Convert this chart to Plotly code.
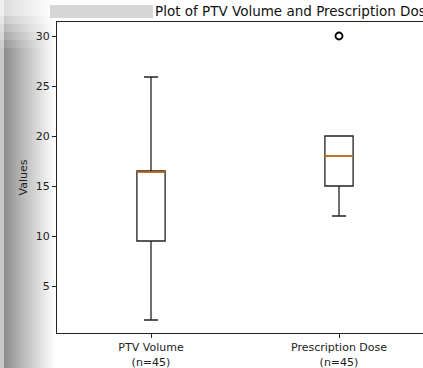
import plotly.graph_objects as go

# ---- data ----
categories = ["PTV Volume", "Prescription Dose"]
counts = [45, 45]
positions = [1, 2]
lower_whisker = [1.6, 12.0]
q1 = [9.5, 15.0]
median = [16.4, 18.0]
q3 = [16.5, 20.0]
upper_whisker = [25.9, 20.0]
outlier_x = [2]
outlier_y = [30.0]
y_ticks = [5, 10, 15, 20, 25, 30]

BOX_W = 0.15
W, H = 423, 368
L, T, B = 57, 22, 35

fig = go.Figure()
for i, cat in enumerate(categories):
    fig.add_trace(go.Box(
        x=[positions[i]], q1=[q1[i]], median=[median[i]], q3=[q3[i]],
        lowerfence=[lower_whisker[i]], upperfence=[upper_whisker[i]],
        width=BOX_W, whiskerwidth=0.5, boxpoints=False,
        fillcolor="white", line=dict(color="#222222", width=1.3),
        showlegend=False, hoverinfo="skip"))
    fig.add_trace(go.Scatter(
        x=[positions[i] - BOX_W / 2, positions[i] + BOX_W / 2],
        y=[median[i], median[i]], mode="lines",
        line=dict(color="#ff7f0e", width=1.3), showlegend=False, hoverinfo="skip"))

fig.add_trace(go.Scatter(
    x=outlier_x, y=outlier_y, mode="markers",
    marker=dict(symbol="circle-open", size=7, color="black", line=dict(width=1.8)),
    showlegend=False, hoverinfo="skip"))

# decorative left gradient (photograph shading)
plot_w = W - L
plot_h = H - T - B
def px2x(px):
    return (px - L) / plot_w
def py2y(py):
    return 1 - (py - T) / plot_h
shapes = []
strip = 2.0
n = 27
for k in range(n):
    x0, x1 = k * strip, (k + 1) * strip
    if x0 < 3:
        g = 200
    else:
        t = (x0 - 3) / (n * strip - 3)
        g = int(138 + (255 - 138) * t ** 0.9)
    shapes.append(dict(type="rect", xref="paper", yref="paper",
                       x0=px2x(x0), x1=px2x(x1), y0=py2y(H), y1=py2y(0),
                       fillcolor=f"rgb({g},{g},{g})", line=dict(width=0), layer="below"))
# lighter top-left
for k, a in enumerate([0.7, 0.55, 0.4, 0.25, 0.12]):
    shapes.append(dict(type="rect", xref="paper", yref="paper",
                       x0=px2x(0), x1=px2x(54), y0=py2y(8 + 8 * (k + 1)), y1=py2y(8 + 8 * k) if k else py2y(0),
                       fillcolor=f"rgba(255,255,255,{a})", line=dict(width=0), layer="below"))
# blurred part of title
shapes.append(dict(type="rect", xref="paper", yref="paper",
                   x0=px2x(50), x1=px2x(153), y0=py2y(18), y1=py2y(5),
                   fillcolor="#d6d6d6", line=dict(width=0)))

fig.update_layout(
    width=W, height=H,
    margin=dict(l=L, r=0, t=T, b=B, pad=0),
    paper_bgcolor="white", plot_bgcolor="white",
    font=dict(family="DejaVu Sans", size=11, color="#222222"),
    title=dict(text="Plot of PTV Volume and Prescription Dose",
               xref="container", yref="container", x=155 / W, xanchor="left",
               y=1 - 11 / H, yanchor="middle",
               font=dict(family="DejaVu Sans", size=13.5, color="#111111")),
    shapes=shapes,
    xaxis=dict(range=[0.5, 0.5 + plot_w / 188.0], tickmode="array", tickvals=positions,
               ticktext=[f"{c}<br>(n={n})" for c, n in zip(categories, counts)],
               showgrid=False, zeroline=False, showline=True, linecolor="#222222",
               linewidth=1, mirror=True, ticks="outside", ticklen=4, tickcolor="#222222",
               tickfont=dict(size=11)),
    yaxis=dict(range=[0.3, 31.4], tickmode="array", tickvals=y_ticks,
               showgrid=False, zeroline=False, showline=True, linecolor="#222222",
               linewidth=1, mirror=False, ticks="outside", ticklen=4, tickcolor="#222222",
               tickfont=dict(size=11),
               title=dict(text="Values", standoff=5, font=dict(size=11))),
)

fig.write_html("out.html", config={"displayModeBar": False},
               post_script="document.body.style.margin='0';document.body.style.overflow='hidden';")
